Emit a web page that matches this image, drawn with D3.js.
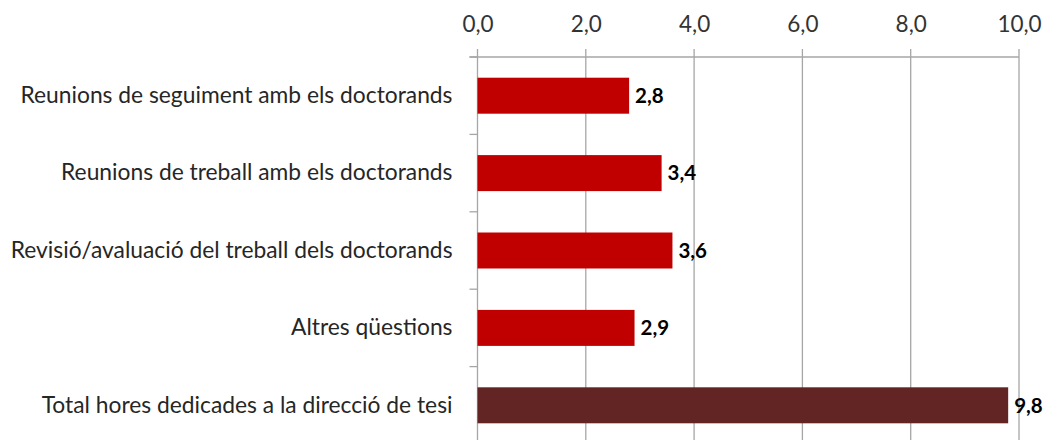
<!DOCTYPE html>
<html><head><meta charset="utf-8">
<script src="https://cdn.jsdelivr.net/npm/d3@7"></script>
<style>
html,body{margin:0;padding:0;background:#fff;}
svg{display:block;font-family:Lato, "Open Sans", sans-serif;}
</style></head>
<body>
<svg id="chart" width="1048" height="440"></svg>
<script>
const categories = [
  "Reunions de seguiment amb els doctorands",
  "Reunions de treball amb els doctorands",
  "Revisió/avaluació del treball dels doctorands",
  "Altres qüestions",
  "Total hores dedicades a la direcció de tesi"
];
const values = [2.8, 3.4, 3.6, 2.9, 9.8];
const tickValues = [0, 2, 4, 6, 8, 10];

const svg = d3.select("#chart");
const W = 1048, H = 440;
const m = {top: 57, left: 477.5, right: 29, bottom: -4};
const x = d3.scaleLinear().domain([0, 10]).range([m.left, W - m.right]);
const y = d3.scaleBand().domain(categories).range([m.top, H - m.bottom]).paddingInner(0.535).paddingOuter(0.2675);
const fmt = d => d3.format(".1f")(d).replace(".", ",");
const grid = "#a6a6a6";

// vertical gridlines
svg.append("g").selectAll("line").data(tickValues).join("line")
  .attr("x1", d => x(d)).attr("x2", d => x(d))
  .attr("y1", m.top - 8).attr("y2", H)
  .attr("stroke", grid).attr("stroke-width", 1.3);

// top axis
const xAxis = d3.axisTop(x).tickValues(tickValues).tickFormat(fmt).tickSize(0).tickPadding(0);
const gx = svg.append("g").attr("transform", `translate(0,${m.top})`).call(xAxis);
gx.select(".domain").remove();
gx.append("line").attr("x1", m.left - 8).attr("x2", x(10)).attr("y1", 0).attr("y2", 0)
  .attr("stroke", grid).attr("stroke-width", 1.3);
gx.selectAll(".tick text").attr("y", -25).attr("font-size", 22.5).attr("fill", "#333")
  .attr("font-family", "Lato, sans-serif");

// category ticks (between bands)
const bounds = categories.slice(1).map(c => y(c) - y.step() * y.paddingInner() / 2);
svg.append("g").selectAll("line").data([y.range()[0]].concat(bounds)).join("line")
  .attr("x1", m.left - 8).attr("x2", m.left).attr("y1", d => d).attr("y2", d => d)
  .attr("stroke", grid).attr("stroke-width", 1.3);

// y axis labels
const yAxis = d3.axisLeft(y).tickSize(0).tickPadding(25);
const gy = svg.append("g").attr("transform", `translate(${m.left},0)`).call(yAxis);
gy.select(".domain").remove();
gy.selectAll(".tick text").attr("font-size", 22.8).attr("fill", "#262626")
  .attr("font-family", "Lato, sans-serif");

// bars
const colors = ["#c00000", "#c00000", "#c00000", "#c00000", "#632523"];
svg.append("g").selectAll("rect").data(values).join("rect")
  .attr("x", x(0)).attr("y", (d, i) => y(categories[i]))
  .attr("width", d => x(d) - x(0)).attr("height", y.bandwidth())
  .attr("fill", (d, i) => colors[i]);

// value labels
svg.append("g").selectAll("text").data(values).join("text")
  .attr("x", d => x(d) + 6).attr("y", (d, i) => y(categories[i]) + y.bandwidth() / 2)
  .attr("dy", "0.36em").attr("font-size", 20.5).attr("font-weight", "bold").attr("fill", "#000")
  .text(d => fmt(d));
</script>
</body></html>
